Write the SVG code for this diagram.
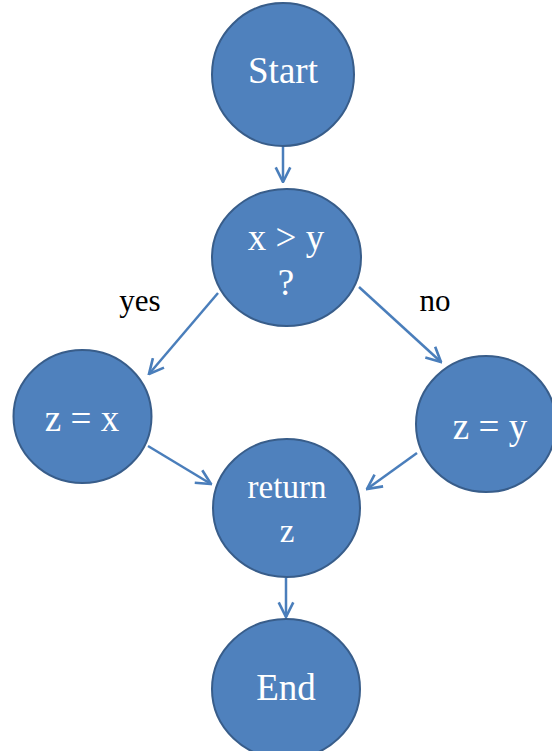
<svg xmlns="http://www.w3.org/2000/svg" width="552" height="751" viewBox="0 0 552 751">
<defs>
<style>
.node{fill:#4F81BD;stroke:#385D8A;stroke-width:2}
.nt{fill:#FFFFFF;font-size:37px;text-anchor:middle}
.lbl{fill:#000000;font-size:31px;text-anchor:middle}
.edge{fill:none;stroke:#4A7EBB;stroke-width:2.5;marker-end:url(#arr)}
</style>
<marker id="arr" viewBox="0 0 12 12" refX="11" refY="6" markerWidth="7" markerHeight="7" markerUnits="strokeWidth" orient="auto">
<polyline points="1,1 11,6 1,11" fill="none" stroke="#4A7EBB" stroke-width="1.8"/>
</marker>
</defs>
<rect width="552" height="751" fill="#FFFFFF"/>
<g id="connectors">
<line class="edge" x1="283" y1="147" x2="283" y2="182"/>
<line class="edge" x1="218" y1="293" x2="149" y2="374"/>
<line class="edge" x1="359" y1="287" x2="441" y2="362"/>
<line class="edge" x1="148" y1="446" x2="211" y2="484"/>
<line class="edge" x1="417" y1="453" x2="367" y2="489"/>
<line class="edge" x1="286" y1="578" x2="286" y2="617"/>
</g>
<g font-family="'Liberation Serif', 'Times New Roman', serif">
<g id="labels">
<text class="lbl" x="140" y="311">yes</text>
<text class="lbl" x="435" y="311">no</text>
</g>
<g id="start">
<ellipse class="node" cx="283" cy="74.5" rx="71" ry="71.5"/>
<text class="nt" x="283" y="83">Start</text>
</g>
<g id="decision">
<ellipse class="node" cx="286.5" cy="257.5" rx="74.5" ry="68.5"/>
<text class="nt" x="286" y="250">x &gt; y</text>
<text class="nt" x="286" y="295">?</text>
</g>
<g id="zx">
<ellipse class="node" cx="82.5" cy="416.5" rx="69" ry="66.5"/>
<text class="nt" x="82" y="431">z = x</text>
</g>
<g id="zy">
<ellipse class="node" cx="486" cy="424" rx="70" ry="68"/>
<text class="nt" x="490" y="439">z = y</text>
</g>
<g id="ret">
<ellipse class="node" cx="286.5" cy="508" rx="73.5" ry="69"/>
<text class="nt" x="287" y="498" style="font-size:33px">return</text>
<text class="nt" x="287" y="542" style="font-size:33px">z</text>
</g>
<g id="end">
<ellipse class="node" cx="286" cy="689" rx="74" ry="70"/>
<text class="nt" x="286" y="700">End</text>
</g>
</g>
</svg>
